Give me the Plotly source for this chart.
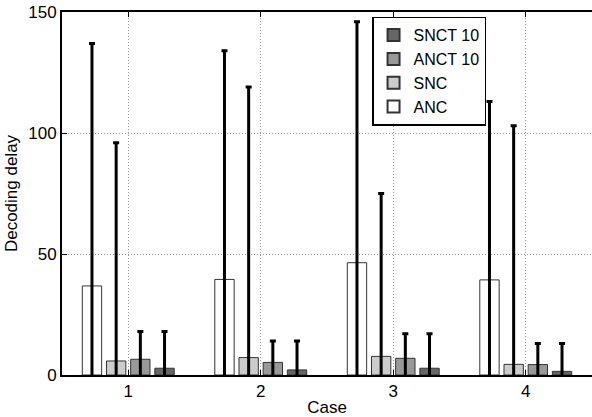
import plotly.graph_objects as go

cases = [1, 2, 3, 4]
tick_labels = ["1", "2", "3", "4"]

anc_mean = [36.8, 39.5, 46.4, 39.3]
anc_upper = [137.0, 134.0, 146.0, 113.0]
snc_mean = [5.8, 7.2, 7.7, 4.4]
snc_upper = [96.0, 119.0, 75.0, 103.0]
anct_mean = [6.5, 5.2, 6.9, 4.3]
anct_upper = [18.0, 14.0, 17.0, 13.0]
snct_mean = [2.8, 2.1, 2.8, 1.5]
snct_upper = [18.0, 14.0, 17.0, 13.0]

series = [
    ("ANC", anc_mean, anc_upper, "#ffffff"),
    ("SNC", snc_mean, snc_upper, "#cccccc"),
    ("ANCT 10", anct_mean, anct_upper, "#999999"),
    ("SNCT 10", snct_mean, snct_upper, "#666666"),
]

FONT = "Liberation Sans, Arial, sans-serif"

fig = go.Figure()
for name, mean, upper, color in series:
    fig.add_trace(go.Bar(
        x=cases, y=mean, name=name,
        marker=dict(color=color, line=dict(color="#333333", width=1)),
        error_y=dict(type="data", symmetric=True,
                     array=[u - m for u, m in zip(upper, mean)],
                     color="black", thickness=3, width=3),
    ))

fig.update_layout(
    width=592, height=417,
    margin=dict(l=62, r=0, t=12, b=42),
    paper_bgcolor="white", plot_bgcolor="white",
    font=dict(family=FONT, size=17, color="black"),
    barmode="group", bargap=0.27, bargroupgap=0.2,
    showlegend=True,
    legend=dict(
        x=0.585, y=0.987, xanchor="left", yanchor="top",
        traceorder="reversed",
        bgcolor="white", bordercolor="black", borderwidth=1.5,
        font=dict(family=FONT, size=16, color="black"),
        itemsizing="constant",
        tracegroupgap=0,
    ),
    xaxis=dict(
        range=[0.5, 4.5], tickvals=cases, ticktext=tick_labels,
        showline=True, linecolor="black", linewidth=2, mirror="ticks",
        ticks="inside", ticklen=5, tickcolor="black", tickwidth=1,
        showgrid=True, gridcolor="#999999", griddash="1px,2px", gridwidth=1,
        zeroline=False,
        title=dict(text="Case", standoff=2, font=dict(size=17)),
        tickfont=dict(size=17),
    ),
    yaxis=dict(
        range=[0, 150], tickvals=[0, 50, 100, 150],
        showline=True, linecolor="black", linewidth=2,
        ticks="inside", ticklen=5, tickcolor="black", tickwidth=1,
        showgrid=True, gridcolor="#999999", griddash="1px,2px", gridwidth=1,
        zeroline=False,
        title=dict(text="Decoding delay", standoff=6, font=dict(size=17)),
        tickfont=dict(size=17),
    ),
)

fig.write_html(
    "out.html",
    config={"displayModeBar": False},
    post_script="document.body.style.margin='0';document.body.style.padding='0';document.body.style.overflow='hidden';",
)
